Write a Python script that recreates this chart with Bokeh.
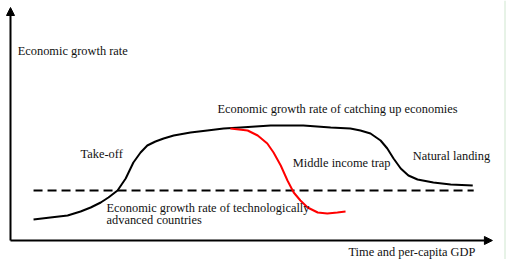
from bokeh.plotting import figure
from bokeh.models import Range1d, Arrow, NormalHead, Span, ColumnDataSource
from bokeh.core.properties import value
from bokeh.embed import file_html
from bokeh.resources import INLINE

# Stylised growth paths: x = time / per-capita GDP, y = economic growth rate
catchup_x = [4.8, 8.3, 11.9, 14.6, 16.7, 18.8, 20.4, 22.3, 24.0, 25.6, 27.1, 28.5, 30.2,
             31.9, 34.0, 37.5, 41.0, 44.4, 47.9, 54.2, 61.0, 66.7, 70.8, 72.9, 75.0,
             77.1, 78.5, 79.8, 81.3, 82.9, 84.8, 88.1, 91.7, 96.3]
catchup_y = [2.1, 2.3, 2.5, 2.9, 3.3, 3.8, 4.3, 5.0, 6.2, 7.8, 8.8, 9.5, 9.9,
             10.2, 10.5, 10.8, 11.0, 11.2, 11.3, 11.5, 11.5, 11.3, 11.2, 11.0, 10.7,
             10.0, 9.2, 8.2, 7.2, 6.5, 6.1, 5.8, 5.6, 5.5]

trap_x = [45.8, 49.4, 51.5, 53.5, 54.8, 56.3, 57.7, 59.0, 60.4, 61.9, 64.0, 66.0, 68.1, 69.8]
trap_y = [11.2, 11.0, 10.5, 9.7, 8.8, 7.5, 6.0, 4.8, 4.0, 3.3, 2.8, 2.7, 2.8, 2.9]

advanced_x = [4.8, 96.5]
advanced_y = [5.0, 5.0]

# Axis extents (arrow tips)
axis_x_end = 100.4
axis_y_end = 23.3

label_text = [
    "Economic growth rate",
    "Economic growth rate of catching up economies",
    "Take-off",
    "Middle income trap",
    "Natural landing",
    "Economic growth rate of technologically",
    "advanced countries",
    "Time and per-capita GDP",
]
label_x = [1.5, 43.1, 14.6, 58.8, 83.8, 20.0, 20.0, 70.4]
label_y = [19.0, 13.2, 8.7, 7.8, 8.5, 3.3, 2.1, -1.1]

W, H = 506, 259
p = figure(width=W, height=H, output_backend="svg", toolbar_location=None,
           x_axis_type=None, y_axis_type=None, min_border=0,
           x_range=Range1d(-10 / 4.8, (W - 10) / 4.8),
           y_range=Range1d((240 - H) / 10, 240 / 10))
p.grid.visible = False
p.outline_line_color = None
p.background_fill_color = "white"
p.border_fill_color = "white"

p.line(advanced_x, advanced_y, line_color="black", line_width=2, line_dash="9 5")
p.line(catchup_x, catchup_y, line_color="black", line_width=2, line_join="round")
p.line(trap_x, trap_y, line_color="#ff0000", line_width=2, line_join="round")

head = dict(size=8, fill_color="black", line_color="black", line_width=1)
p.add_layout(Arrow(end=NormalHead(**head), x_start=0, y_start=0, x_end=0, y_end=axis_y_end,
                   line_width=2, line_color="black"))
p.add_layout(Arrow(end=NormalHead(**head), x_start=0, y_start=0, x_end=axis_x_end, y_end=0,
                   line_width=2, line_color="black"))

src = ColumnDataSource(dict(x=label_x, y=label_y, text=label_text))
p.text(x="x", y="y", text="text", source=src, text_font=value("Liberation Serif"),
       text_font_size="12.4px", text_color="#111111",
       text_baseline="middle", text_align="left")

p.add_layout(Span(location=(W - 1.5 - 10) / 4.8, dimension="height",
                  line_color="#cfe6cf", line_width=1))

open("out.html", "w").write(file_html(p, INLINE))
